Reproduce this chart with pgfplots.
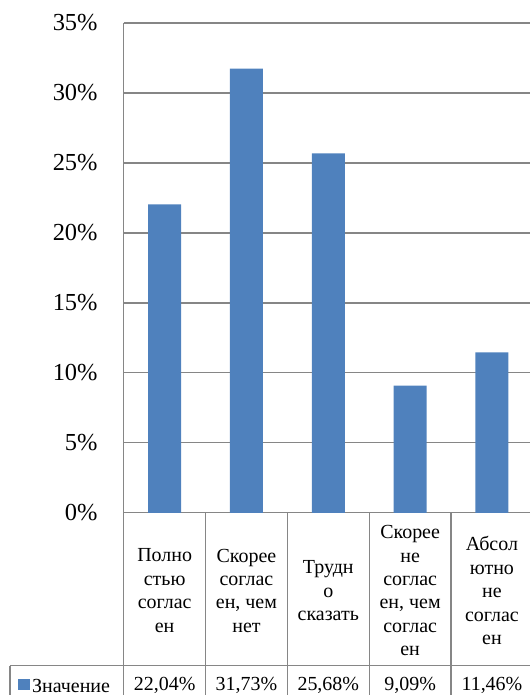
\documentclass[border=0pt]{standalone}
\usepackage{pgfplots}
\pgfplotsset{compat=1.18}
\usepackage{fontspec}
\setmainfont{Liberation Serif}
\definecolor{barblue}{HTML}{4F81BD}
\definecolor{gridgray}{HTML}{868686}
\newcommand{\tabfont}{\fontsize{20}{23.5}\selectfont}

\begin{document}
\begin{tikzpicture}
\begin{axis}[
    scale only axis, width=407pt, height=491pt,
    xmin=-0.5, xmax=4.4634, ymin=0, ymax=35,
    axis x line*=bottom, axis y line*=left,
    axis line style={gridgray, line width=1.2pt},
    ymajorgrids, grid style={gridgray, line width=1.2pt},
    major tick length=0pt,
    ytick={0,5,...,35},
    yticklabels={0\%,5\%,10\%,15\%,20\%,25\%,30\%,35\%},
    yticklabel style={font=\fontsize{24.5}{28}\selectfont, anchor=east, inner sep=0pt, xshift=-26pt},
    xtick={0,1,2,3,4},
    xticklabels={{Полно\\стью\\соглас\\ен},
                 {Скорее\\соглас\\ен, чем\\нет},
                 {Трудн\\о\\сказать},
                 {Скорее\\не\\соглас\\ен, чем\\соглас\\ен},
                 {Абсол\\ютно\\не\\соглас\\ен}},
    xticklabel style={font=\tabfont, align=center, anchor=center, inner sep=0pt, yshift=-78pt},
    ybar, bar width=33pt,
    clip=false,
]
\addplot[fill=barblue, draw=none] coordinates {
    (0,22.04) (1,31.73) (2,25.68) (3,9.09) (4,11.46)
};
% data table: values row
\node[font=\tabfont] at (axis cs:0,0) [yshift=-173pt] {22,04\%};
\node[font=\tabfont] at (axis cs:1,0) [yshift=-173pt] {31,73\%};
\node[font=\tabfont] at (axis cs:2,0) [yshift=-173pt] {25,68\%};
\node[font=\tabfont] at (axis cs:3,0) [yshift=-173pt] {9,09\%};
\node[font=\tabfont] at (axis cs:4,0) [yshift=-173pt] {11,46\%};
% data table lines
\pgfplotsinvokeforeach{-0.5,0.5,1.5,2.5,3.5}{
  \draw[gridgray, line width=1.2pt] (axis cs:#1,0) -- ([yshift=-183pt]axis cs:#1,0);
}
\draw[gridgray, line width=1.2pt] ([xshift=-114pt,yshift=-153pt]rel axis cs:0,0) -- ([yshift=-153pt]rel axis cs:1,0);
\draw[gridgray, line width=1.2pt] ([xshift=-114pt,yshift=-153pt]rel axis cs:0,0) -- ([xshift=-114pt,yshift=-183pt]rel axis cs:0,0);
% legend key
\fill[barblue] ([xshift=-106pt,yshift=-178pt]rel axis cs:0,0) rectangle ([xshift=-94pt,yshift=-166pt]rel axis cs:0,0);
\node[font=\tabfont, anchor=west, inner sep=0pt] at ([xshift=-92pt,yshift=-173pt]rel axis cs:0,0) {Значение};
% page frame
\path ([xshift=-124pt,yshift=514pt]rel axis cs:0,0) rectangle ([yshift=-183pt]rel axis cs:1,0);
\end{axis}
\end{tikzpicture}
\end{document}
